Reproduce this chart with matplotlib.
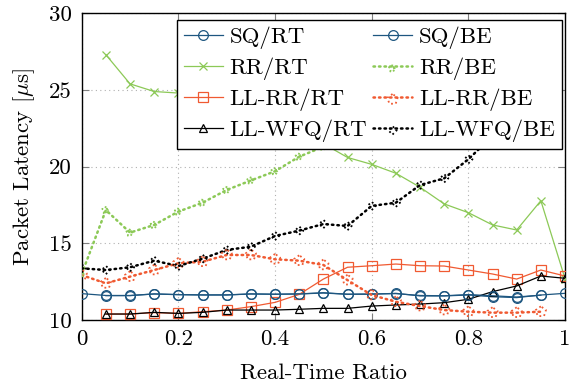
import numpy as np
import matplotlib
matplotlib.use("Agg")
import matplotlib.pyplot as plt

plt.rcParams["font.family"] = ["cmr10", "DejaVu Serif"]
plt.rcParams["mathtext.fontset"] = "cm"
plt.rcParams["axes.formatter.use_mathtext"] = True

# real-time ratio: RT flows exist for x > 0, BE flows for x < 1
x_rt = [0.05, 0.10, 0.15, 0.20, 0.25, 0.30, 0.35, 0.40, 0.45, 0.50,
        0.55, 0.60, 0.65, 0.70, 0.75, 0.80, 0.85, 0.90, 0.95, 1.00]
x_be = [0.00, 0.05, 0.10, 0.15, 0.20, 0.25, 0.30, 0.35, 0.40, 0.45,
        0.50, 0.55, 0.60, 0.65, 0.70, 0.75, 0.80, 0.85, 0.90, 0.95]

sq_rt = [11.59, 11.59, 11.70, 11.65, 11.63, 11.63, 11.70, 11.68, 11.70, 11.78,
         11.68, 11.68, 11.74, 11.57, 11.57, 11.63, 11.52, 11.46, 11.63, 11.74]
sq_be = [11.72, 11.60, 11.60, 11.70, 11.66, 11.64, 11.64, 11.70, 11.68, 11.70,
         11.76, 11.68, 11.70, 11.72, 11.60, 11.58, 11.66, 11.58, 11.50, 11.62]

rr_rt = [27.30, 25.40, 24.90, 24.80, 24.60, 24.20, 23.60, 22.90, 22.20, 21.50,
         20.60, 20.15, 19.57, 18.66, 17.57, 17.00, 16.20, 15.87, 17.78, 12.70]
rr_be = [13.00, 17.17, 15.70, 16.20, 17.07, 17.65, 18.48, 19.10, 19.70, 20.65,
         21.30, 22.00, 22.70, 23.40, 24.10, 24.80, 25.50, 26.20, 26.90, 27.60]

llrr_rt = [10.39, 10.39, 10.48, 10.43, 10.54, 10.65, 10.87, 11.15, 11.67, 12.67,
           13.44, 13.54, 13.65, 13.54, 13.52, 13.26, 13.00, 12.67, 13.26, 12.87]
llrr_be = [12.93, 12.39, 12.83, 13.26, 13.70, 13.80, 14.24, 14.24, 13.96, 13.87,
           13.59, 12.60, 11.63, 11.19, 10.91, 10.65, 10.54, 10.48, 10.48, 10.54]

llwfq_rt = [10.39, 10.39, 10.50, 10.43, 10.50, 10.65, 10.65, 10.65, 10.70, 10.76,
            10.76, 10.91, 10.98, 11.04, 11.13, 11.35, 11.85, 12.22, 12.87, 12.72]
llwfq_be = [13.37, 13.26, 13.44, 13.87, 13.52, 14.00, 14.57, 14.78, 15.48, 15.83,
            16.26, 16.13, 17.44, 17.65, 18.80, 19.24, 20.48, 22.00, 23.50, 25.00]

blue = "#1d5680"
green = "#8cc957"
orange = "#f05a32"
black = "#000000"
fs = 16.5

fig = plt.figure(figsize=(5.69, 3.87), dpi=100)
ax = fig.add_axes([0.1436, 0.1731, 0.8494, 0.7925])


def rt_line(y, color, marker, ms):
    line, = ax.plot(x_rt, y, color=color, lw=0.9, marker=marker, ms=ms,
                    mfc="none", mec=color, mew=0.9, zorder=3)
    return line


def be_line(y, color, marker, s):
    line, = ax.plot(x_be, y, color=color, lw=1.8, ls=(0, (0.6, 1.6)),
                    dash_capstyle="round", zorder=3)
    sc = ax.scatter(x_be, y, s=s, marker=marker, facecolors="none",
                    edgecolors=color, linewidths=1.3, linestyles=":", zorder=4)
    return (line, sc)


h_sq_rt = rt_line(sq_rt, blue, "o", 7)
h_rr_rt = rt_line(rr_rt, green, "x", 6)
h_llrr_rt = rt_line(llrr_rt, orange, "s", 7)
h_llwfq_rt = rt_line(llwfq_rt, black, "^", 6)

# SQ/BE is drawn with the same solid style as SQ/RT
h_sq_be, = ax.plot(x_be, sq_be, color=blue, lw=0.9, marker="o", ms=7,
                   mfc="none", mec=blue, mew=0.9, zorder=3)
h_rr_be = be_line(rr_be, green, "*", 30)
h_llrr_be = be_line(llrr_be, orange, "p", 60)
h_llwfq_be = be_line(llwfq_be, black, "D", 18)

ax.set_xlim(0, 1)
ax.set_ylim(10, 30)
ax.set_xticks([0, 0.2, 0.4, 0.6, 0.8, 1.0])
ax.set_xticklabels(["0", "0.2", "0.4", "0.6", "0.8", "1"])
ax.set_yticks([10, 15, 20, 25, 30])
ax.set_yticklabels(["10", "15", "20", "25", "30"])
ax.grid(True, color="#b0b0b0", ls=(0, (1, 3)), lw=0.8)
ax.set_axisbelow(True)
ax.tick_params(direction="in", top=True, right=True, length=5,
               color="#808080", labelsize=fs, pad=7)
for sp in ax.spines.values():
    sp.set_linewidth(1.0)

ax.set_xlabel("Real-Time Ratio", fontsize=fs, labelpad=10)
ax.set_ylabel(r"Packet Latency [$\mu$s]", fontsize=fs, labelpad=9)

handles = [h_sq_rt, h_rr_rt, h_llrr_rt, h_llwfq_rt,
           h_sq_be, h_rr_be, h_llrr_be, h_llwfq_be]
labels = ["SQ/RT", "RR/RT", "LL-RR/RT", "LL-WFQ/RT",
          "SQ/BE", "RR/BE", "LL-RR/BE", "LL-WFQ/BE"]
leg = ax.legend(handles, labels, ncol=2, loc="upper right",
                bbox_to_anchor=(0.993, 0.978), borderaxespad=0,
                fontsize=fs, frameon=True, fancybox=False, framealpha=1,
                edgecolor="black", scatterpoints=1, handlelength=1.7,
                handletextpad=0.3, columnspacing=0.25, labelspacing=0.37,
                borderpad=0.3)
leg.get_frame().set_linewidth(1.0)
leg.set_zorder(10)

fig.savefig("out.png", dpi=100)
